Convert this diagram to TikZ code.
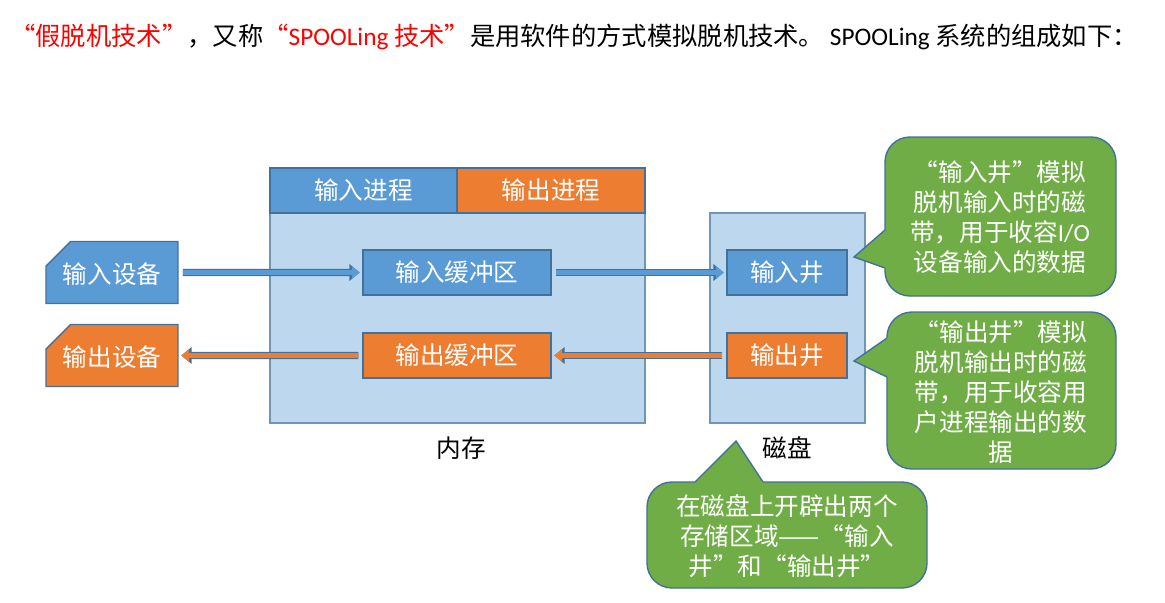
\documentclass[tikz,border=0pt]{standalone}
\usepackage{fontspec}
\setmainfont{Noto Sans CJK SC}
\newfontfamily\latinfont{Carlito}
\usetikzlibrary{arrows.meta,shapes.misc}
\definecolor{BoxBlue}{HTML}{5B9BD5}
\definecolor{BoxOrange}{HTML}{ED7D31}
\definecolor{NoteGreen}{HTML}{70AD47}
\definecolor{EdgeBlue}{HTML}{41719C}
\definecolor{MemFill}{HTML}{BDD7EE}
\definecolor{TitleRed}{HTML}{FF0000}

\begin{document}
\begin{tikzpicture}[x=0.02cm, y=-0.02cm,
    every node/.style={inner sep=0pt, font=\fontsize{14}{17}\selectfont},
    unit/.style={rectangle, draw=EdgeBlue, line width=0.8pt, text=white, minimum height=0.9cm},
    device/.style={chamfered rectangle, chamfered rectangle corners=north west,
      chamfered rectangle xsep=0.52cm, chamfered rectangle ysep=0.24cm, draw=EdgeBlue, line width=0.8pt, text=white,
      minimum width=2.64cm, minimum height=1.24cm, text height=1.34em, text depth=0.1em},
    store/.style={rectangle, draw=EdgeBlue!75, line width=0.8pt, fill=MemFill, minimum height=4.2cm},
    note/.style={fill=NoteGreen, draw=EdgeBlue, line width=0.8pt},
    notetext/.style={text=white, align=center},
    flow/.style={line width=2.6pt, -{Triangle[length=4.4pt,width=7pt]},
      preaction={draw=EdgeBlue, line width=4pt, -{Triangle[length=5.8pt,width=9.2pt]}},
      shorten <=2.3pt, shorten >=1.5pt}]
    \useasboundingbox (0,0) rectangle (1165,602);
    \fill[white] (0,0) rectangle (1165,602);

    % title line
    \node[anchor=west, font=\fontsize{14.4}{17}\selectfont] (title) at (10,37) {{\color{TitleRed}“假脱机技术”}，又称{\color{TitleRed}“{\latinfont SPOOLing} 技术”}是用软件的方式模拟脱机技术。 {\latinfont SPOOLing} 系统的组成如下：};

    % memory
    \node[store, minimum width=7.5cm] (memory) at (457.5,318) {};
    \node[unit, fill=BoxBlue, minimum width=3.74cm] (inProc) at (363.5,190.5) {输入进程};
    \node[unit, fill=BoxOrange, minimum width=3.76cm] (outProc) at (551,190.5) {输出进程};
    \node[unit, fill=BoxBlue, minimum width=3.76cm] (inBuf) at (457,272.5) {输入缓冲区};
    \node[unit, fill=BoxOrange, minimum width=3.76cm] (outBuf) at (457,355.5) {输出缓冲区};
    \node (memLabel) at (461,448) {内存};

    % disk
    \node[store, minimum width=3.1cm] (disk) at (787.5,318) {};
    \node[unit, fill=BoxBlue, minimum width=2.4cm] (inWell) at (787,272.5) {输入井};
    \node[unit, fill=BoxOrange, minimum width=2.4cm] (outWell) at (787,355.5) {输出井};
    \node (diskLabel) at (787,448) {磁盘};

    % devices
    \node[device, fill=BoxBlue] (inDev) at (112,272.5) {输入设备};
    \node[device, fill=BoxOrange] (outDev) at (112,355.5) {输出设备};

    \draw[flow, BoxBlue] (inDev) -- (inBuf);
    \draw[flow, BoxBlue] (inBuf) -- (inWell);
    \draw[flow, BoxOrange] (outWell) -- (outBuf);
    \draw[flow, BoxOrange] (outBuf) -- (outDev);

    % callouts
    \coordinate (tipIn) at (854,257);
    \filldraw[note, rounded corners=0.5cm] (885,137) rectangle (1116,296);
    \fill[NoteGreen] (887,229) -- (tipIn) -- (887,269) -- cycle;
    \draw[EdgeBlue, line width=0.8pt] (885,230) -- (tipIn) -- (885,268);
    \node[notetext] (noteIn) at (1000,217) {“输入井”模拟\\脱机输入时的磁\\带，用于收容{\latinfont I/O}\\设备输入的数据};

    \coordinate (tipOut) at (854,361);
    \filldraw[note, rounded corners=0.5cm] (887,312) rectangle (1116,469);
    \fill[NoteGreen] (889,337) -- (tipOut) -- (889,378) -- cycle;
    \draw[EdgeBlue, line width=0.8pt] (887,338) -- (tipOut) -- (887,377);
    \node[notetext] (noteOut) at (1001,392) {“输出井”模拟\\脱机输出时的磁\\带，用于收容用\\户进程输出的数\\据};

    \coordinate (tipDisk) at (736,441);
    \filldraw[note, rounded corners=0.5cm] (647,482) rectangle (927,588);
    \fill[NoteGreen] (694,484) -- (tipDisk) -- (764,484) -- cycle;
    \draw[EdgeBlue, line width=0.8pt] (695,482) -- (tipDisk) -- (763,482);
    \node[notetext] (noteDisk) at (787,536) {在磁盘上开辟出两个\\存储区域——“输入\\井”和“输出井”};
\end{tikzpicture}
\end{document}
